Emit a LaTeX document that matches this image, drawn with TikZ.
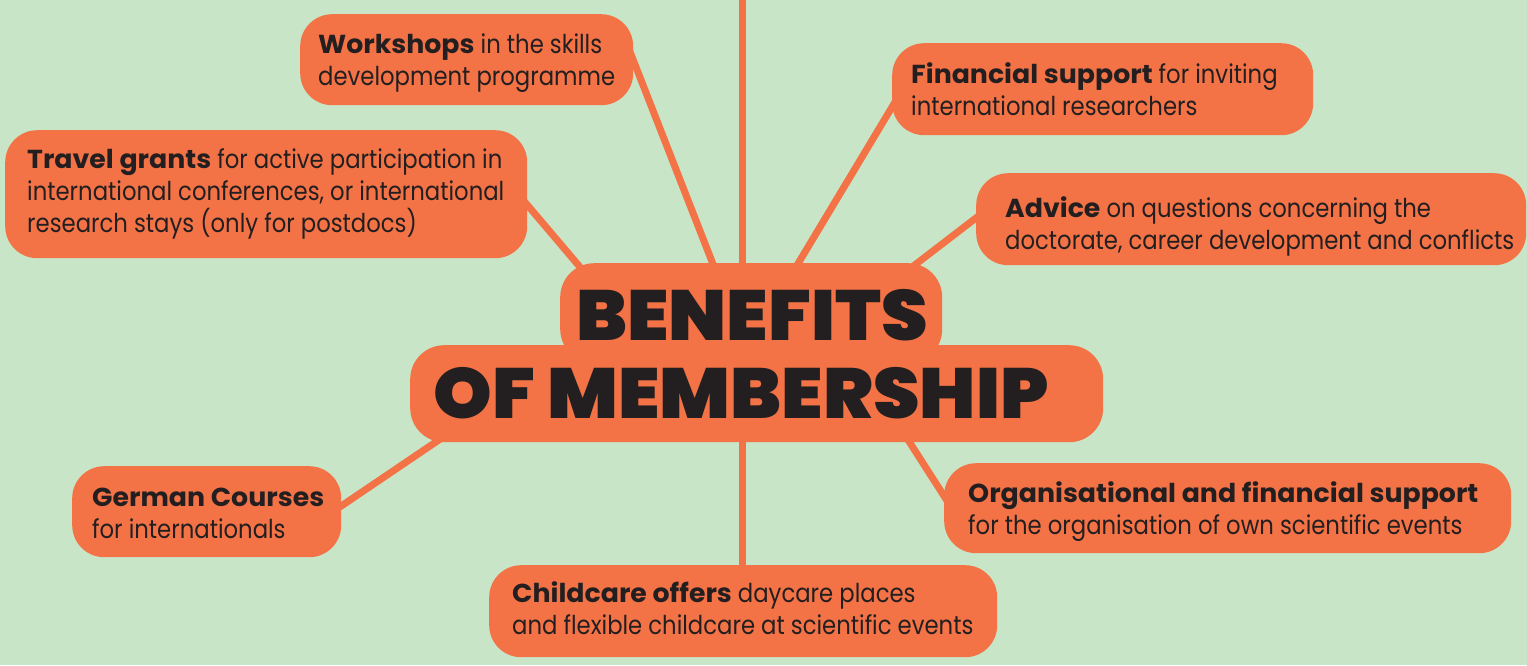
\documentclass[tikz,border=0pt]{standalone}
\usepackage{fontspec}
\setmainfont{Poppins}[UprightFeatures={FakeStretch=0.875}, BoldFeatures={FakeStretch=1.03}]
\newfontfamily\headfont{Poppins Black}[FakeStretch=1.05]
\usetikzlibrary{calc}
\definecolor{bgc}{HTML}{C8E5C8}
\definecolor{orng}{HTML}{F47346}
\definecolor{ink}{HTML}{231F20}
\pgfdeclarelayer{bgl}
\pgfdeclarelayer{lines}
\pgfsetlayers{bgl,lines,main}
\newcommand\tlines[1]{\vtop{\baselineskip=32pt\lineskiplimit=-1000pt #1}}
\begin{document}
\begin{tikzpicture}[x=1pt,y=-1pt,
  box/.style={fill=orng, rounded corners=32pt, anchor=north west, inner sep=0pt},
  cbox/.style={fill=orng, rounded corners=34pt, anchor=north west, inner sep=0pt},
  txt/.style={anchor=base west, inner sep=0pt, text=ink, font=\fontsize{26}{32}\selectfont},
  head/.style={text=ink, font=\headfont\fontsize{71}{78}\selectfont, inner sep=0pt},
  link/.style={draw=orng, line width=7pt}]
\useasboundingbox (0,0) rectangle (1527,665);
\begin{pgfonlayer}{bgl}
\fill[bgc] (0,0) rectangle (1527,665);
\end{pgfonlayer}

% central node
\node[cbox, minimum width=382pt, minimum height=100pt] (ctop) at (560,263) {};
\node[cbox, minimum width=693pt, minimum height=97pt] (cbot) at (410,345) {};
\node[head] (t1) at (752,315) {BENEFITS};
\node[head] (t2) at (741,393) {OF MEMBERSHIP};

% benefit boxes
\node[box, minimum width=333pt, minimum height=91pt] (ws) at (300,14) {};
\node[box, minimum width=522pt, minimum height=128pt] (tg) at (5,130) {};
\node[box, minimum width=421pt, minimum height=92pt] (fs) at (892,43) {};
\node[box, minimum width=550pt, minimum height=92pt] (ad) at (976,173) {};
\node[box, minimum width=269pt, minimum height=91pt] (gc) at (72,466) {};
\node[box, minimum width=567pt, minimum height=90pt] (og) at (944,463) {};
\node[box, minimum width=508pt, minimum height=92pt] (cc) at (489,565) {};

% texts
\node[txt] (wst) at (318,53) {\tlines{\hbox{\textbf{Workshops} in the skills}\hbox{development programme}}};
\node[txt] (tgt) at (27,168) {\tlines{\hbox{\textbf{Travel grants} for active participation in}\hbox{international conferences, or international}\hbox{research stays (only for postdocs)}}};
\node[txt] (fst) at (911,83) {\tlines{\hbox{\textbf{Financial support} for inviting}\hbox{international researchers}}};
\node[txt] (adt) at (1005,217) {\tlines{\hbox{\textbf{Advice} on questions concerning the}\hbox{doctorate, career development and conflicts}}};
\node[txt] (gct) at (92,506) {\tlines{\hbox{\textbf{German Courses}}\hbox{for internationals}}};
\node[txt] (ogt) at (968,502) {\tlines{\hbox{\textbf{Organisational and financial support}}\hbox{for the organisation of own scientific events}}};
\node[txt] (cct) at (512,602) {\tlines{\hbox{\textbf{Childcare offers} daycare places}\hbox{and flexible childcare at scientific events}}};

\coordinate (topend) at (742,0);

\begin{pgfonlayer}{lines}
\draw[link] (topend) -- (topend |- {$(ctop.north)+(0,17)$});
\draw[link] ($(ws.north east)+(-8,26)$) -- ($(ctop.north)+(-32,17)$);
\draw[link] ($(tg.east)+(-5,5)$) -- ($(ctop.north west)+(31,17)$);
\draw[link] ($(fs.south west)+(13,-50)$) -- ($(ctop.north)+(37,17)$);
\draw[link] ($(ad.west)+(14,-12)$) -- ($(ctop.north)+(144,17)$);
\draw[link] ($(cbot.south west)+(43,-12)$) -- ($(gc.east)+(-13,3)$);
\draw[link] ($(cbot.south west)+(492,-12)$) -- ($(og.north west)+(9,47)$);
\draw[link] (cbot.south -| topend) ++(0,-12) -- ($(cc.north west)+(253,15)$);
\end{pgfonlayer}
\end{tikzpicture}
\end{document}
